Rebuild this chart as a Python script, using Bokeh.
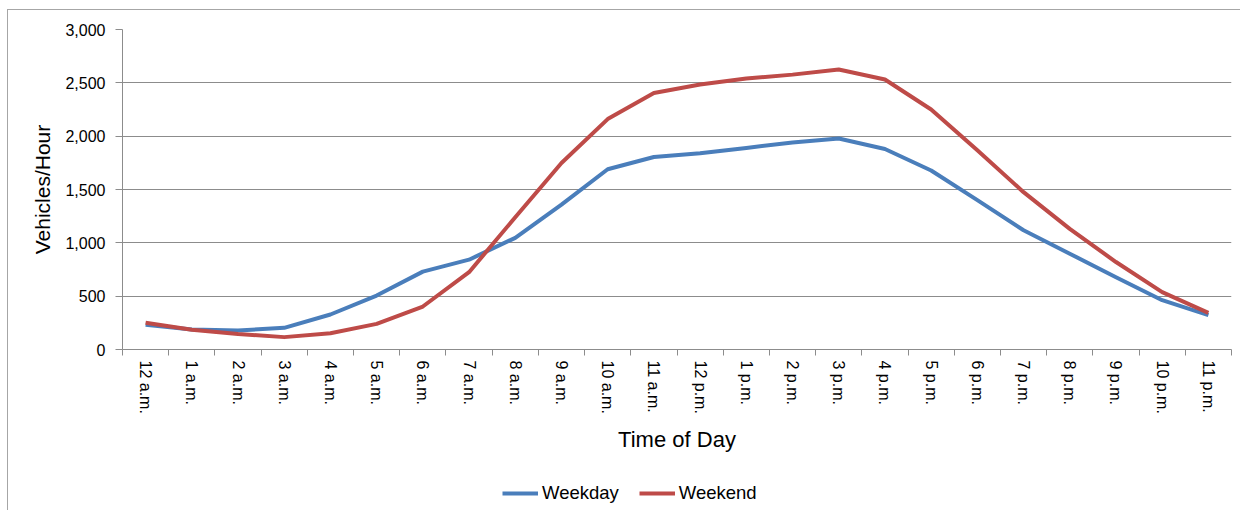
from bokeh.plotting import figure
from bokeh.layouts import column
from bokeh.models import (ColumnDataSource, FixedTicker, NumeralTickFormatter, Legend,
                          LegendItem, Range1d)
from bokeh.embed import file_html
from bokeh.resources import INLINE

hours = ["12 a.m.", "1 a.m.", "2 a.m.", "3 a.m.", "4 a.m.", "5 a.m.", "6 a.m.", "7 a.m.",
         "8 a.m.", "9 a.m.", "10 a.m.", "11 a.m.", "12 p.m.", "1 p.m.", "2 p.m.", "3 p.m.",
         "4 p.m.", "5 p.m.", "6 p.m.", "7 p.m.", "8 p.m.", "9 p.m.", "10 p.m.", "11 p.m."]
weekday = [231, 188, 178, 203, 328, 506, 730, 842, 1047, 1358, 1690, 1805, 1840, 1890,
           1940, 1978, 1880, 1678, 1400, 1118, 898, 678, 462, 322]
weekend = [250, 185, 145, 116, 153, 240, 403, 725, 1240, 1749, 2160, 2405, 2485, 2540,
           2577, 2625, 2531, 2250, 1868, 1475, 1131, 820, 538, 344]
series_names = ["Weekday", "Weekend"]
series_cols = ["weekday", "weekend"]
series_colors = ["#4a7ebb", "#be4b48"]
y_ticks = [0, 500, 1000, 1500, 2000, 2500, 3000]

FONT = "Liberation Sans"
GRAY = "#8c8c8c"
LW = 4

pos = [i + 0.5 for i in range(len(hours))]
src = ColumnDataSource(dict(x=pos, weekday=weekday, weekend=weekend))

p1 = figure(width=1232, height=450, output_backend="svg", toolbar_location=None,
            x_range=Range1d(0, len(hours)), y_range=Range1d(0, 3000),
            min_border_left=114, min_border_top=19, min_border_right=9, min_border_bottom=111)
p1.outline_line_color = None

for col, color in zip(series_cols, series_colors):
    p1.line("x", col, source=src, line_color=color, line_width=LW, line_join="round")

# x axis
xa = p1.xaxis[0]
xa.ticker = FixedTicker(ticks=pos, minor_ticks=list(range(len(hours) + 1)))
xa.major_label_overrides = {x: h for x, h in zip(pos, hours)}
xa.major_label_orientation = "vertical"
xa.major_tick_line_color = None
xa.major_tick_out = 0
xa.major_tick_in = 0
xa.minor_tick_line_color = GRAY
xa.minor_tick_out = 6
xa.minor_tick_in = 0
xa.axis_line_color = GRAY
xa.major_label_standoff = 5
xa.major_label_text_font = FONT
xa.major_label_text_font_size = "16px"
xa.major_label_text_color = "black"
xa.axis_label = "Time of Day"
xa.axis_label_text_font = FONT
xa.axis_label_text_font_size = "22px"
xa.axis_label_text_font_style = "normal"
xa.axis_label_text_color = "black"
xa.axis_label_standoff = 10

# y axis
ya = p1.yaxis[0]
ya.ticker = FixedTicker(ticks=y_ticks)
ya.formatter = NumeralTickFormatter(format="0,0")
ya.major_tick_line_color = GRAY
ya.major_tick_out = 7
ya.major_tick_in = 0
ya.minor_tick_line_color = None
ya.axis_line_color = GRAY
ya.major_label_standoff = 10
ya.major_label_text_font = FONT
ya.major_label_text_font_size = "16px"
ya.major_label_text_color = "black"
ya.axis_label = "Vehicles/Hour"
ya.axis_label_text_font = FONT
ya.axis_label_text_font_size = "21px"
ya.axis_label_text_font_style = "normal"
ya.axis_label_text_color = "black"
ya.axis_label_standoff = 8

p1.xgrid.grid_line_color = None
p1.ygrid.grid_line_color = GRAY
p1.ygrid.ticker = FixedTicker(ticks=y_ticks)

# legend strip below the chart (its lines fall outside this strip's ranges; only the
# legend swatches show)
p2 = figure(width=1232, height=50, output_backend="svg", toolbar_location=None,
            x_axis_location=None, y_axis_location=None, min_border=0,
            x_range=Range1d(0, 1), y_range=Range1d(0, 1))
p2.outline_line_color = None
p2.grid.grid_line_color = None
items = []
for name, col, color in zip(series_names, series_cols, series_colors):
    r = p2.line("x", col, source=src, line_color=color, line_width=LW)
    items.append(LegendItem(label=name, renderers=[r]))
legend = Legend(items=items, orientation="horizontal", location=(380, 6),
                glyph_width=36, glyph_height=20, label_standoff=4, spacing=20,
                padding=0, margin=0, border_line_color=None, background_fill_alpha=0,
                label_text_font=FONT, label_text_font_size="18.5px", label_text_color="black")
p2.add_layout(legend, "center")

p = column(p1, p2, spacing=0,
           styles={"margin-left": "7px", "margin-top": "9px",
                   "border-left": "1px solid #a6a6a6", "border-top": "1px solid #a6a6a6"})

open("out.html", "w").write(file_html(p, INLINE))
